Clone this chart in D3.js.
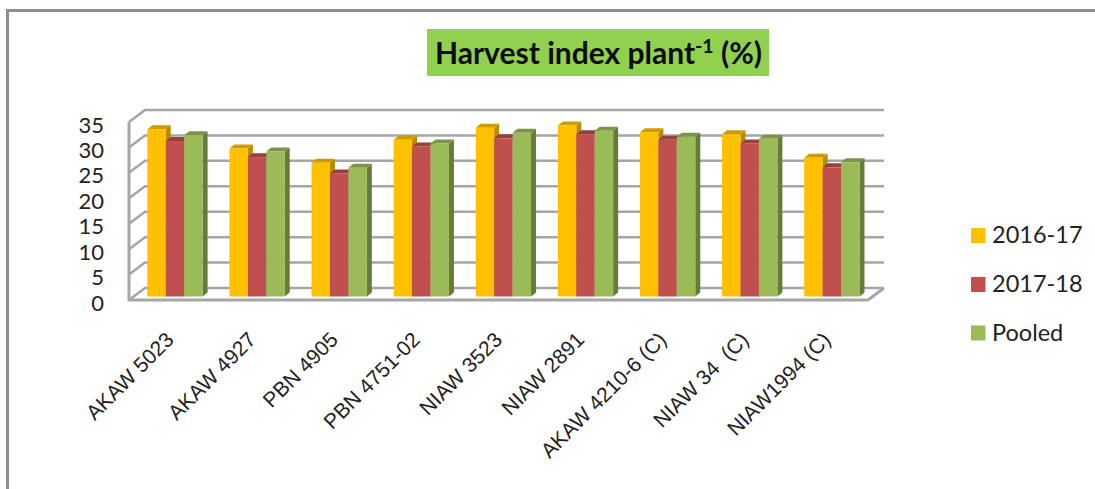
<!DOCTYPE html>
<html><head><meta charset="utf-8">
<script src="https://cdn.jsdelivr.net/npm/d3@7"></script>
<style>html,body{margin:0;padding:0;background:#fff}svg{display:block}</style>
</head><body><svg id="c" width="1095" height="489"></svg>
<script>
const categories = ["AKAW 5023","AKAW 4927","PBN 4905","PBN 4751-02","NIAW 3523","NIAW 2891","AKAW 4210-6 (C)","NIAW 34  (C)","NIAW1994 (C)"];
const seriesNames = ["2016-17","2017-18","Pooled"];
const values2016 = [32.9,29.1,26.3,30.8,33.2,33.6,32.3,31.9,27.3];
const values2017 = [30.6,27.4,24.2,29.5,31.1,31.9,30.8,30.1,25.4];
const valuesPooled = [31.7,28.5,25.3,30.1,32.2,32.6,31.4,31.0,26.4];
const yTicks = [0,5,10,15,20,25,30,35];
const titleMain = "Harvest index plant", titleSup = "-1", titleTail = " (%)";

const series = [values2016, values2017, valuesPooled];
const faces = [
  {front:"#FFC000", top:"#CF9C00", side:"#B88A00"},
  {front:"#C0504D", top:"#963F3D", side:"#8A3A38"},
  {front:"#9BBB59", top:"#7B9546", side:"#667C3A"}
];
const svg = d3.select("#c");

// frame
svg.append("path").attr("d","M7.5 489V10.5H1095").attr("fill","none").attr("stroke","#8e8e8e").attr("stroke-width",3);

// title
svg.append("rect").attr("x",427).attr("y",29).attr("width",342).attr("height",47).attr("fill","#92D050");
const tt = svg.append("text").attr("x",598.5).attr("y",64).attr("text-anchor","middle")
  .attr("font-family","Lato").attr("font-weight",700).attr("font-size",30).attr("fill","#0c0c0c")
  .style("white-space","pre");
tt.append("tspan").text(titleMain);
tt.append("tspan").attr("dy",-11).attr("font-size",19.5).text(titleSup);
tt.append("tspan").attr("dy",11).text(titleTail);

// scales
const depth = {dx:16, dy:-12};
const x = d3.scaleBand().domain(categories).range([129,868]);
const y = d3.scaleLinear().domain([0,35]).range([300,122]);
const inner = d3.scaleBand().domain(d3.range(3)).range([18.3,73.6]);
const barShift = {dx:0, dy:-3.5}, barDepth = {dx:5, dy:-4};

// walls
const wall = svg.append("g").attr("fill","none").attr("stroke","#a6a6a6").attr("stroke-width",2.5);
yTicks.forEach(v=>{
  const yy = y(v);
  wall.append("path").attr("d",`M129 ${yy}L${129+depth.dx} ${yy+depth.dy}H${868+depth.dx}`);
});
wall.append("path").attr("d",`M129 ${y(35)}V${y(0)}H868L${868+depth.dx} ${y(0)+depth.dy}`).attr("stroke-width",3);

// bars
const groups = svg.selectAll("g.grp").data(categories).join("g").attr("class","grp")
  .attr("transform",c=>`translate(${x(c)},${barShift.dy})`);
series.forEach((vals,s)=>{
  const f = faces[s], w = inner.bandwidth(), x0 = inner(s);
  groups.each(function(c,i){
    const g = d3.select(this), t = y(vals[i]), b = y(0), d = barDepth;
    g.append("path").attr("fill",f.side)
      .attr("d",`M${x0+w} ${t}l${d.dx} ${d.dy}V${b+d.dy}l${-d.dx} ${-d.dy}Z`);
    g.append("path").attr("fill",f.top)
      .attr("d",`M${x0} ${t}l${d.dx} ${d.dy}h${w}l${-d.dx} ${-d.dy}Z`);
    g.append("rect").attr("x",x0).attr("y",t).attr("width",w).attr("height",b-t).attr("fill",f.front);
  });
});

// y axis
const ya = svg.append("g").attr("transform","translate(104,3)")
  .call(d3.axisLeft(y).tickValues(yTicks).tickSize(0).tickPadding(0));
ya.select(".domain").remove();
ya.selectAll("text").attr("font-family","Lato").attr("font-size",22).attr("fill","#222");

// x axis
const xa = svg.append("g").attr("transform","translate(0,300)")
  .call(d3.axisBottom(x).tickSize(0).tickPadding(0));
xa.select(".domain").remove();
xa.selectAll("text").attr("font-family","'Liberation Sans'").attr("font-size",21).attr("fill","#222")
  .attr("text-anchor","end").attr("dy",0).attr("y",0).style("white-space","pre")
  .attr("transform","translate(5,41) rotate(-45)");

// legend
const lg = svg.selectAll("g.lg").data(seriesNames).join("g").attr("class","lg")
  .attr("transform",(d,i)=>`translate(971,${[228,277,325.5][i]})`);
lg.append("rect").attr("width",14.5).attr("height",15).attr("fill",(d,i)=>faces[i].front);
lg.append("text").attr("x",21).attr("y",15).text(d=>d)
  .attr("font-family","Lato").attr("font-size",23.5).attr("fill","#222");
</script></body></html>
